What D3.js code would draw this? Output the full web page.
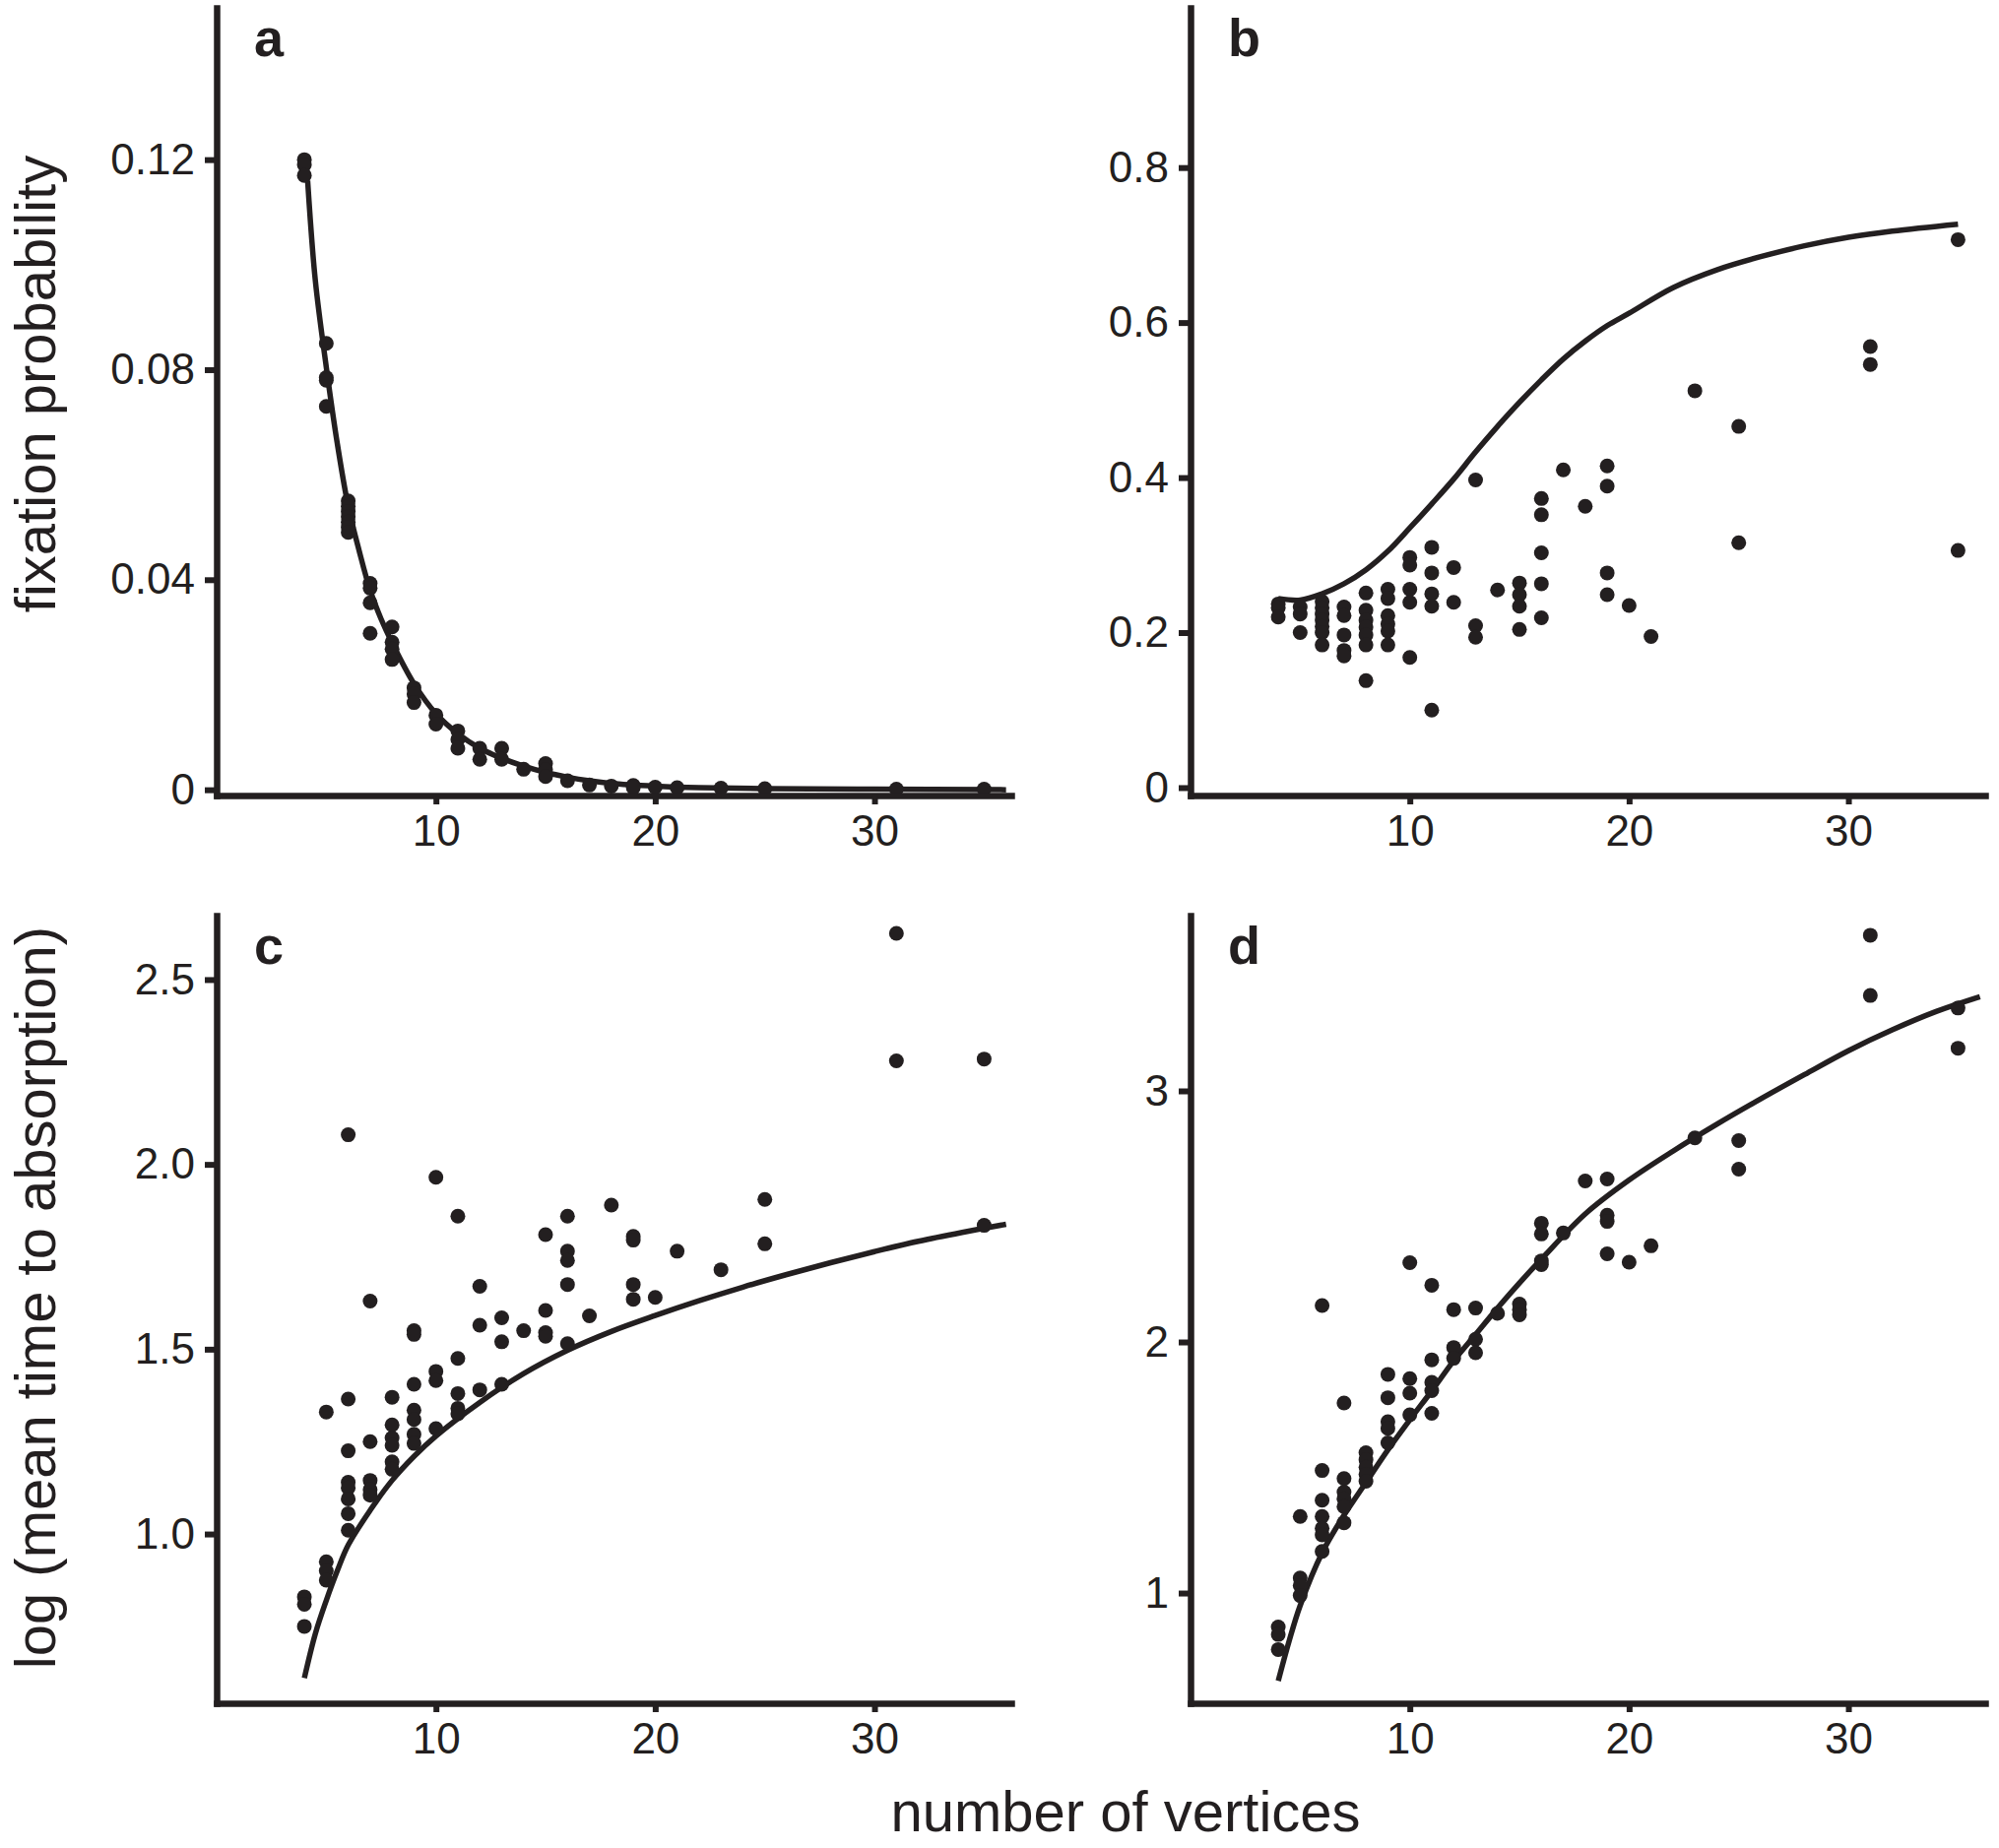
<!DOCTYPE html>
<html>
<head>
<meta charset="utf-8">
<script src="https://cdn.jsdelivr.net/npm/d3@7"></script>
<style>
  body { margin: 0; background: #fff; }
  svg { display: block; }
</style>
</head>
<body>
<div id="chart"></div>
<script>
// Number of vertices vs fixation probability / log mean time to absorption

const INK = '#231f20';

// x tick values shared by all panels
const xTicks = [10, 20, 30];

// panel a — fixation probability (points)
const aX = [4, 4, 4, 5, 5, 5, 5, 6, 6, 6, 6, 6, 6, 6, 7, 7, 7, 7, 8, 8, 8, 8, 9, 9, 9,
  10, 10, 11, 11, 11, 12, 12, 13, 13, 14, 15, 15, 15, 16, 17, 18, 19, 19, 20, 21, 23, 25, 31, 35];
const aY = [0.120, 0.119, 0.117, 0.085, 0.0785, 0.078, 0.073, 0.055, 0.054, 0.053, 0.052, 0.051, 0.050, 0.049,
  0.0393, 0.0384, 0.0356, 0.0298, 0.031, 0.0281, 0.0268, 0.0248, 0.0194, 0.0182, 0.0166,
  0.0142, 0.0125, 0.0112, 0.0096, 0.0079, 0.0079, 0.0058, 0.0079, 0.0058, 0.0039, 0.005, 0.0038, 0.0025,
  0.0017, 0.0009, 0.0007, 0.0008, 0.0004, 0.0005, 0.0004, 0.0003, 0.0002, 0.0001, 0.0001];
// panel a — fitted curve
const aCurveX = [4.15, 4.5, 5, 5.5, 6, 6.5, 7, 7.5, 8, 9, 10, 11, 12, 13, 14, 15, 16, 17, 18, 20, 22, 25, 30, 36];
const aCurveY = [0.116, 0.097, 0.0805, 0.066, 0.054, 0.0455, 0.038, 0.0325, 0.028, 0.0202, 0.0145, 0.0107,
  0.0079, 0.006, 0.0045, 0.0033, 0.0024, 0.0017, 0.0012, 0.0007, 0.0004, 0.0002, 0.0001, 0];

// panel b — fixation probability (points)
const bX = [4, 4, 4, 5, 5, 5, 6, 6, 6, 6, 6, 6, 6, 7, 7, 7, 7, 7, 8, 8, 8, 8, 8, 8, 8,
  9, 9, 9, 9, 9, 9, 10, 10, 10, 10, 10, 11, 11, 11, 11, 11, 12, 12, 13, 13, 13, 14,
  15, 15, 15, 15, 16, 16, 16, 16, 16, 17, 18, 19, 19, 19, 19, 20, 21, 23, 25, 25, 31, 31, 35, 35];
const bY = [0.237, 0.232, 0.220, 0.233, 0.224, 0.200, 0.240, 0.232, 0.224, 0.216, 0.208, 0.200, 0.184,
  0.233, 0.222, 0.197, 0.177, 0.170, 0.251, 0.229, 0.216, 0.207, 0.197, 0.184, 0.138,
  0.256, 0.244, 0.222, 0.211, 0.202, 0.184, 0.297, 0.287, 0.256, 0.239, 0.168,
  0.310, 0.277, 0.250, 0.234, 0.100, 0.284, 0.239, 0.397, 0.209, 0.194, 0.255,
  0.264, 0.249, 0.234, 0.204, 0.373, 0.352, 0.303, 0.263, 0.219, 0.410, 0.363,
  0.415, 0.389, 0.277, 0.249, 0.235, 0.195, 0.512, 0.466, 0.316, 0.569, 0.546, 0.707, 0.306];
const bCurveX = [4, 5, 6, 7, 8, 9, 10, 11, 12, 13, 14, 15, 16, 17, 18, 19, 20, 22, 24, 26, 28, 30, 32, 35];
const bCurveY = [0.244, 0.242, 0.250, 0.263, 0.281, 0.305, 0.335, 0.366, 0.398, 0.433, 0.466, 0.497, 0.526,
  0.553, 0.576, 0.596, 0.612, 0.645, 0.668, 0.685, 0.699, 0.710, 0.718, 0.727];

// panel c — log mean time to absorption (points)
const cX = [4, 4, 4, 5, 5, 5, 5, 6, 6, 6, 6, 6, 6, 6, 6, 7, 7, 7, 7, 7, 8, 8, 8, 8, 8, 8,
  9, 9, 9, 9, 9, 9, 9, 10, 10, 10, 10, 11, 11, 11, 11, 11, 12, 12, 12, 13, 13, 13, 14,
  15, 15, 15, 15, 16, 16, 16, 16, 16, 17, 18, 19, 19, 19, 19, 20, 21, 23, 25, 25, 31, 31, 35, 35];
const cY = [0.83, 0.81, 0.75, 1.33, 0.925, 0.90, 0.875, 2.08, 1.365, 1.225, 1.14, 1.125, 1.095, 1.055, 1.01,
  1.63, 1.25, 1.145, 1.12, 1.105, 1.37, 1.295, 1.26, 1.24, 1.195, 1.175,
  1.55, 1.54, 1.405, 1.335, 1.31, 1.27, 1.245, 1.965, 1.44, 1.415, 1.285,
  1.86, 1.475, 1.38, 1.34, 1.325, 1.67, 1.565, 1.39, 1.585, 1.52, 1.405, 1.55,
  1.81, 1.605, 1.545, 1.535, 1.86, 1.765, 1.74, 1.675, 1.515, 1.59, 1.89,
  1.805, 1.795, 1.675, 1.635, 1.64, 1.765, 1.715, 1.905, 1.785, 2.625, 2.28, 2.285, 1.835];
const cCurveX = [4, 4.5, 5, 5.5, 6, 7, 8, 9, 10, 12, 14, 16, 18, 20, 22, 24, 26, 28, 30, 32, 34, 36];
const cCurveY = [0.61, 0.73, 0.82, 0.90, 0.97, 1.064, 1.145, 1.21, 1.265, 1.356, 1.434, 1.497, 1.548, 1.591,
  1.631, 1.668, 1.702, 1.734, 1.764, 1.792, 1.816, 1.838];

// panel d — log mean time to absorption (points)
const dX = [4, 4, 4, 5, 5, 5, 5, 6, 6, 6, 6, 6, 6, 6, 7, 7, 7, 7, 7, 7, 8, 8, 8, 8, 8,
  9, 9, 9, 9, 9, 10, 10, 10, 10, 11, 11, 11, 11, 11, 12, 12, 12, 13, 13, 13, 14,
  15, 15, 15, 16, 16, 16, 16, 17, 18, 19, 19, 19, 19, 20, 21, 23, 25, 25, 31, 31, 35, 35];
const dY = [0.865, 0.835, 0.775, 1.305, 1.06, 1.03, 0.99, 2.145, 1.488, 1.37, 1.305, 1.258, 1.232, 1.166,
  1.757, 1.456, 1.402, 1.376, 1.344, 1.28, 1.559, 1.531, 1.501, 1.473, 1.445,
  1.871, 1.778, 1.682, 1.656, 1.598, 2.316, 1.854, 1.796, 1.71,
  2.226, 1.929, 1.839, 1.806, 1.716, 2.129, 1.978, 1.935, 2.135, 2.011, 1.957, 2.114,
  2.151, 2.129, 2.108, 2.473, 2.43, 2.323, 2.308, 2.434, 2.641,
  2.649, 2.505, 2.48, 2.351, 2.318, 2.383, 2.813, 2.802, 2.688, 3.62, 3.38, 3.33, 3.17];
const dCurveX = [4, 4.5, 5, 6, 7, 8, 9, 10, 11, 12, 13, 14, 15, 16, 18, 20, 22, 24, 26, 28, 30, 32, 34, 36];
const dCurveY = [0.65, 0.81, 0.95, 1.16, 1.31, 1.44, 1.57, 1.69, 1.805, 1.925, 2.03, 2.135, 2.235, 2.33,
  2.51, 2.645, 2.76, 2.867, 2.968, 3.065, 3.16, 3.243, 3.316, 3.375];

// y tick values and labels per panel
const aTicks = [0, 0.04, 0.08, 0.12];
const aTickLabels = ['0', '0.04', '0.08', '0.12'];
const bTicks = [0, 0.2, 0.4, 0.6, 0.8];
const bTickLabels = ['0', '0.2', '0.4', '0.6', '0.8'];
const cTicks = [1.0, 1.5, 2.0, 2.5];
const cTickLabels = ['1.0', '1.5', '2.0', '2.5'];
const dTicks = [1, 2, 3];
const dTickLabels = ['1', '2', '3'];

const FONT = "'Liberation Sans', Arial, Helvetica, sans-serif";
const W = 2030, H = 1877;

const svg = d3.select('#chart').append('svg')
  .attr('width', W)
  .attr('height', H)
  .attr('viewBox', `0 0 ${W} ${H}`);

const panels = [
  { label: 'a', left: 220, top: 8, bottom: 808, yDomain: [-0.0011, 0.1489],
    px: aX, py: aY, cx: aCurveX, cy: aCurveY, ticks: aTicks, tickLabels: aTickLabels },
  { label: 'b', left: 1209, top: 8, bottom: 808, yDomain: [-0.0102, 1.006],
    px: bX, py: bY, cx: bCurveX, cy: bCurveY, ticks: bTicks, tickLabels: bTickLabels },
  { label: 'c', left: 220, top: 930, bottom: 1730, yDomain: [0.542, 2.673],
    px: cX, py: cY, cx: cCurveX, cy: cCurveY, ticks: cTicks, tickLabels: cTickLabels },
  { label: 'd', left: 1209, top: 930, bottom: 1730, yDomain: [0.561, 3.698],
    px: dX, py: dY, cx: dCurveX, cy: dCurveY, ticks: dTicks, tickLabels: dTickLabels }
];

const panelWidth = 807;

panels.forEach(p => {
  const x = d3.scaleLinear().domain([0, 36.24]).range([p.left, p.left + panelWidth]);
  const y = d3.scaleLinear().domain(p.yDomain).range([p.bottom, p.top]);
  const g = svg.append('g');

  // fitted curve
  const line = d3.line()
    .x((d, i) => x(p.cx[i]))
    .y((d, i) => y(p.cy[i]))
    .curve(d3.curveCatmullRom.alpha(0.5));
  g.append('path')
    .datum(p.cx)
    .attr('d', line)
    .attr('fill', 'none')
    .attr('stroke', INK)
    .attr('stroke-width', 5.5);

  // points
  g.selectAll('circle')
    .data(p.px)
    .join('circle')
    .attr('cx', d => x(d))
    .attr('cy', (d, i) => y(p.py[i]))
    .attr('r', 7.5)
    .attr('fill', INK);

  // y axis
  const yAxis = d3.axisLeft(y)
    .tickValues(p.ticks)
    .tickFormat((d, i) => p.tickLabels[i])
    .tickSize(12)
    .tickSizeOuter(0)
    .tickPadding(10);
  const yg = g.append('g')
    .attr('transform', `translate(${p.left},0)`)
    .call(yAxis);

  // x axis
  const xAxis = d3.axisBottom(x)
    .tickValues(xTicks)
    .tickFormat(d3.format('d'))
    .tickSize(9)
    .tickSizeOuter(0)
    .tickPadding(11);
  const xg = g.append('g')
    .attr('transform', `translate(0,${p.bottom})`)
    .call(xAxis);

  [yg, xg].forEach(ax => {
    ax.select('.domain')
      .attr('stroke', INK)
      .attr('stroke-width', 6.5)
      .attr('stroke-linecap', 'square');
    ax.selectAll('.tick line')
      .attr('stroke', INK)
      .attr('stroke-width', 6);
    ax.selectAll('.tick text')
      .attr('fill', INK)
      .attr('font-family', FONT)
      .attr('font-size', 44);
  });

  // panel letter
  g.append('text')
    .attr('x', p.left + 38)
    .attr('y', p.top + 49)
    .attr('font-family', FONT)
    .attr('font-weight', 'bold')
    .attr('font-size', 54)
    .attr('fill', INK)
    .text(p.label);
});

// axis titles
svg.append('text')
  .attr('transform', 'translate(56,390) rotate(-90)')
  .attr('text-anchor', 'middle')
  .attr('font-family', FONT)
  .attr('font-size', 58)
  .attr('fill', INK)
  .text('fixation probability');

svg.append('text')
  .attr('transform', 'translate(56,1318) rotate(-90)')
  .attr('text-anchor', 'middle')
  .attr('font-family', FONT)
  .attr('font-size', 58)
  .attr('fill', INK)
  .text('log (mean time to absorption)');

svg.append('text')
  .attr('x', 1143)
  .attr('y', 1860)
  .attr('text-anchor', 'middle')
  .attr('font-family', FONT)
  .attr('font-size', 58)
  .attr('fill', INK)
  .text('number of vertices');
</script>
</body>
</html>
